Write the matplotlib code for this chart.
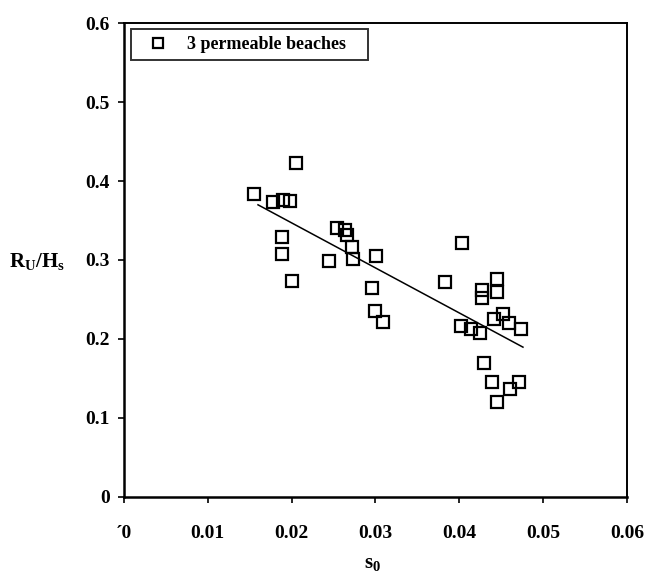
import numpy as np
import matplotlib
matplotlib.use('Agg')
import matplotlib.pyplot as plt

plt.rcParams['font.family'] = ['Liberation Serif', 'DejaVu Serif']
plt.rcParams['font.weight'] = 'bold'
plt.rcParams['mathtext.fontset'] = 'custom'
plt.rcParams['mathtext.rm'] = 'Liberation Serif'
plt.rcParams['mathtext.bf'] = 'Liberation Serif:bold'
plt.rcParams['mathtext.it'] = 'Liberation Serif:italic:bold'

# wave steepness s0 and relative runup Ru/Hs
s0 = [0.0155, 0.0178, 0.0190, 0.0198, 0.0205, 0.0189, 0.0189, 0.0200,
      0.0245, 0.0254, 0.0264, 0.0266, 0.0272, 0.0273, 0.0301, 0.0296,
      0.0300, 0.0309, 0.0383, 0.0403, 0.0402, 0.0414, 0.0425, 0.0427,
      0.0427, 0.0445, 0.0445, 0.0441, 0.0452, 0.0459, 0.0474, 0.0430,
      0.0439, 0.0471, 0.0460, 0.0445]
ru_hs = [0.384, 0.373, 0.376, 0.375, 0.423, 0.329, 0.308, 0.273,
         0.299, 0.341, 0.338, 0.332, 0.316, 0.301, 0.305, 0.265,
         0.235, 0.222, 0.272, 0.322, 0.216, 0.212, 0.208, 0.262,
         0.252, 0.276, 0.260, 0.225, 0.232, 0.220, 0.212, 0.170,
         0.146, 0.146, 0.137, 0.120]
series_label = '3 permeable beaches'
xticks = [0, 0.01, 0.02, 0.03, 0.04, 0.05, 0.06]
xticklabels = ['\u00b40', '0.01', '0.02', '0.03', '0.04', '0.05', '0.06']
yticks = [0, 0.1, 0.2, 0.3, 0.4, 0.5, 0.6]
yticklabels = ['0', '0.1', '0.2', '0.3', '0.4', '0.5', '0.6']

fig = plt.figure(facecolor='White', figsize=[6.45, 5.79], dpi=100)
ax = fig.add_axes([0.192, 0.142, 0.78, 0.818])

x = np.array(s0); y = np.array(ru_hs)
ax.plot(x, y, 's', mfc='none', mec='k', mew=1.6, ms=8.3, label=series_label)
# linear trend through the data
p = np.polyfit(x, y, 1)
xl = np.array([0.0160, 0.0476])
ax.plot(xl, np.polyval(p, xl), '-', color='k', lw=1.1)

ax.set_xlim([0, 0.06]); ax.set_ylim([0, 0.6])
ax.set_xticks(xticks); ax.set_xticklabels(xticklabels)
ax.set_yticks(yticks); ax.set_yticklabels(yticklabels)
ax.tick_params(axis='both', direction='out', length=4, width=1.2, labelsize=14)
ax.tick_params(axis='x', pad=16)
ax.tick_params(axis='y', pad=6)
for side in ['left', 'bottom']:
    ax.spines[side].set_linewidth(1.8)
for side in ['top', 'right']:
    ax.spines[side].set_linewidth(1.4)

leg = ax.legend(loc='upper left', bbox_to_anchor=(0.014, 0.988, 0.472, 0.0), mode='expand',
                fontsize=13, frameon=True, fancybox=False, edgecolor='k', handletextpad=0.5,
                borderpad=0.4, handlelength=2.2, markerscale=0.85, borderaxespad=0)
leg.get_frame().set_linewidth(1.4)

fig.text(0.058, 0.548, r'$\mathbf{R_U/H_s}$', ha='center', va='center', fontsize=15)
fig.text(0.578, 0.027, r'$\mathbf{s_0}$', ha='center', va='center', fontsize=15)

plt.savefig('out.png', format='png', dpi=100)
